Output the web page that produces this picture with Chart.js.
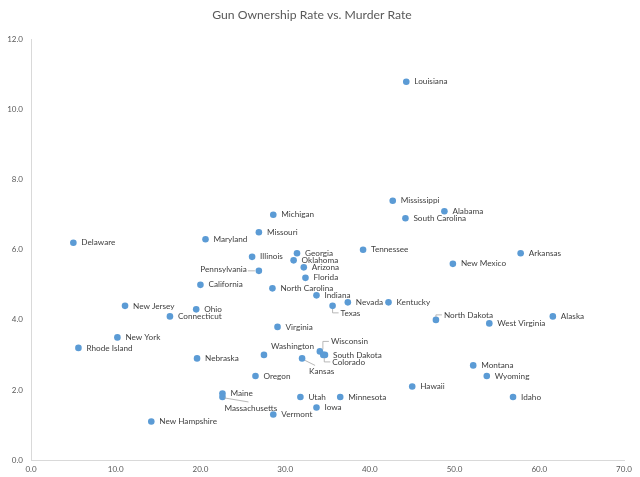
<!DOCTYPE html>
<html>
<head>
<meta charset="utf-8">
<script src="https://cdn.jsdelivr.net/npm/chart.js@4/dist/chart.umd.min.js"></script>
<style>
html,body{margin:0;padding:0;background:#fff;}
#wrap{width:640px;height:477px;position:relative;}
</style>
</head>
<body>
<div id="wrap"><canvas id="c" width="640" height="477"></canvas></div>
<script>
const states = ["Louisiana","Mississippi","Alabama","South Carolina","Michigan","Missouri","Maryland","Delaware","Tennessee","Arkansas",
"Georgia","Illinois","Oklahoma","New Mexico","Arizona","Pennsylvania","Florida","California","North Carolina","Indiana",
"Nevada","Kentucky","Texas","New Jersey","Ohio","Connecticut","North Dakota","Alaska","West Virginia","Virginia",
"New York","Rhode Island","Wisconsin","South Dakota","Colorado","Washington","Kansas","Nebraska","Montana","Oregon",
"Wyoming","Hawaii","Maine","Massachusetts","Utah","Minnesota","Idaho","Iowa","Vermont","New Hampshire"];
const gunOwnership = [44.3,42.7,48.8,44.2,28.6,26.9,20.6,5.0,39.2,57.8,
31.4,26.1,31.0,49.8,32.2,26.9,32.4,20.0,28.5,33.7,
37.4,42.2,35.6,11.1,19.5,16.4,47.8,61.6,54.1,29.1,
10.2,5.6,34.1,34.7,34.5,27.5,32.0,19.6,52.2,26.5,
53.8,45.0,22.6,22.6,31.8,36.5,56.9,33.7,28.6,14.2];
const murderRate = [10.8,7.4,7.1,6.9,7.0,6.5,6.3,6.2,6.0,5.9,
5.9,5.8,5.7,5.6,5.5,5.4,5.2,5.0,4.9,4.7,
4.5,4.5,4.4,4.4,4.3,4.1,4.0,4.1,3.9,3.8,
3.5,3.2,3.1,3.0,3.0,3.0,2.9,2.9,2.7,2.4,
2.4,2.1,1.9,1.8,1.8,1.8,1.8,1.5,1.3,1.1];
const xTicks = [0,10,20,30,40,50,60,70];
const yTicks = [0,2,4,6,8,10,12];

// label placement (styling only)
const placement = {
  "Pennsylvania": {dx:-12, dy:-1, align:"right", leader:[[-4,0],[-11,0]]},
  "Texas": {dx:8, dy:7, leader:[[0,3],[0,7],[6,7]]},
  "North Dakota": {dx:8, dy:-5, leader:[[0,-3],[0,-5],[6,-5]]},
  "Wisconsin": {dx:11, dy:-10, leader:[[3,-2],[3,-10],[9,-10]]},
  "Colorado": {dx:9, dy:7, leader:[[1,3],[1,7],[7,7]]},
  "Washington": {dx:7, dy:-9},
  "Kansas": {dx:7, dy:13, leader:[[3,2],[13,7]]},
  "Massachusetts": {dx:2, dy:11, leader:[[2,1],[26,5]]}
};

const FONT = 'Lato, "Open Sans", sans-serif';

const labelPlugin = {
  id:'stateLabels',
  afterDatasetsDraw(chart){
    const ctx = chart.ctx;
    const meta = chart.getDatasetMeta(0);
    ctx.save();
    ctx.font = '8.2px ' + FONT;
    ctx.fillStyle = '#404040';
    ctx.textBaseline = 'middle';
    meta.data.forEach((el,i)=>{
      const name = states[i];
      const p = placement[name] || {dx:8, dy:0};
      if (p.leader){
        ctx.strokeStyle = '#a6a6a6';
        ctx.lineWidth = 0.8;
        ctx.beginPath();
        p.leader.forEach((pt,k)=>{
          const x = el.x+pt[0], y = el.y+pt[1];
          if(k===0) ctx.moveTo(x,y); else ctx.lineTo(x,y);
        });
        ctx.stroke();
      }
      ctx.textAlign = p.align || 'left';
      ctx.fillText(name, el.x+p.dx, el.y+p.dy);
    });
    ctx.restore();
  }
};

const points = gunOwnership.map((x,i)=>({x:x, y:murderRate[i]}));

new Chart(document.getElementById('c'), {
  type:'scatter',
  data:{datasets:[{
    label:'States',
    data:points,
    backgroundColor:'#5B9BD5',
    borderColor:'#5B9BD5',
    borderWidth:0,
    pointRadius:3.3,
    pointHoverRadius:3.3
  }]},
  options:{
    responsive:false,
    animation:false,
    devicePixelRatio:1,
    layout:{padding:{left:0,right:16,top:0,bottom:0}},
    plugins:{
      legend:{display:false},
      tooltip:{enabled:false},
      title:{display:true,text:'Gun Ownership Rate vs. Murder Rate',color:'#595959',
        font:{family:FONT,size:12.2,weight:'normal'},padding:{top:8,bottom:17}}
    },
    scales:{
      x:{type:'linear',min:0,max:70,
        afterBuildTicks(s){ s.ticks = xTicks.map(v=>({value:v})); },
        grid:{display:false,drawTicks:false},
        border:{display:true,color:'#d9d9d9',width:1},
        ticks:{color:'#595959',font:{family:FONT,size:8},padding:5,
          maxRotation:0,autoSkip:false,callback:v=>Number(v).toFixed(1)},
        afterFit(s){ s.height = 17; }
      },
      y:{type:'linear',min:0,max:12,
        afterBuildTicks(s){ s.ticks = yTicks.map(v=>({value:v})); },
        grid:{display:false,drawTicks:false},
        border:{display:true,color:'#d9d9d9',width:1},
        ticks:{color:'#595959',font:{family:FONT,size:8},padding:8,
          callback:v=>Number(v).toFixed(1)},
        afterFit(s){ s.width = 31; }
      }
    }
  },
  plugins:[labelPlugin]
});
</script>
</body>
</html>
